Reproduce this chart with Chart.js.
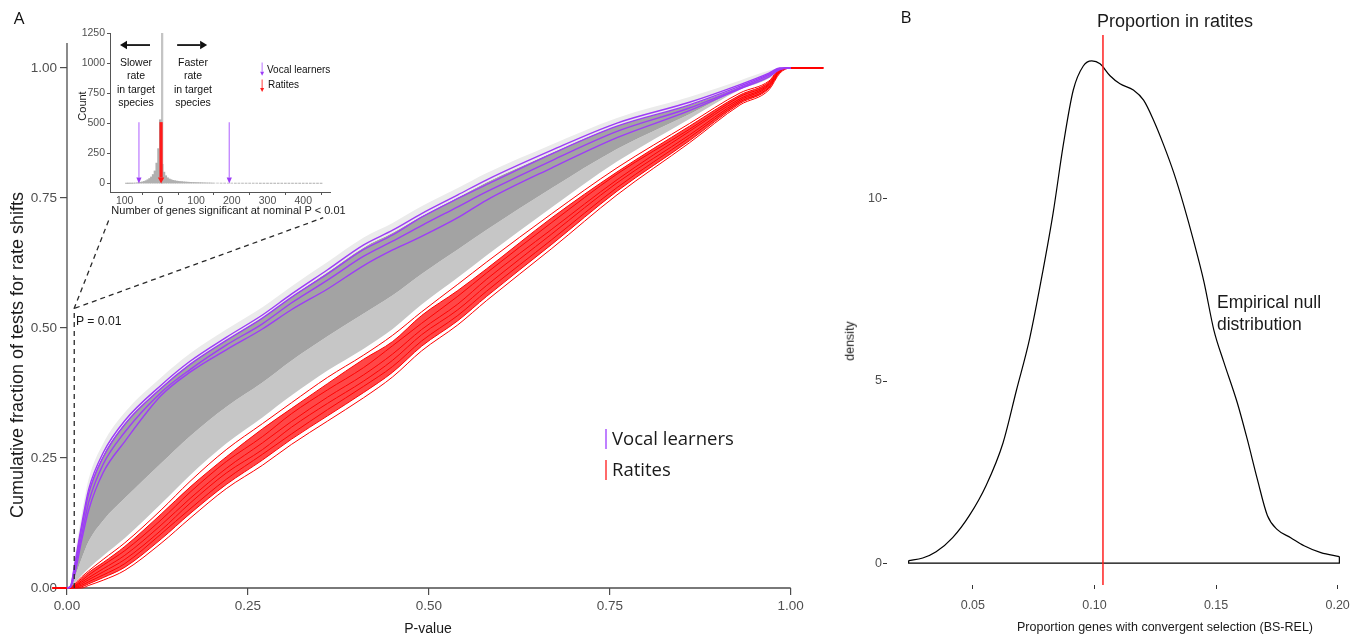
<!DOCTYPE html>
<html><head><meta charset="utf-8">
<script src="https://cdn.jsdelivr.net/npm/chart.js@4.4.1/dist/chart.umd.min.js"></script>
<style>
html,body{margin:0;padding:0;background:#fff;}
#wrap{position:relative;width:1363px;height:637px;overflow:hidden;}
canvas{position:absolute;}
.t{position:absolute;white-space:pre;line-height:1;}
</style></head><body><div id="wrap">
<canvas id="cA" width="860" height="637" style="left:0;top:0"></canvas>
<canvas id="cI" width="300" height="200" style="left:60px;top:20px"></canvas>
<canvas id="cB" width="523" height="637" style="left:840px;top:0"></canvas>
</div>
<script>
// ---------------- DATA ----------------
// Panel A: cumulative fraction vs P-value
const pGrid = [0, 0.005, 0.01, 0.02, 0.03, 0.05, 0.08, 0.13, 0.17, 0.22, 0.27, 0.31, 0.36, 0.41, 0.45, 0.49, 0.54, 0.58, 0.67, 0.76, 0.86, 0.93, 0.97, 0.985, 1.0];
// empirical null (grey) envelope
const nullEdgeTop    = [0, 0.008, 0.055, 0.14, 0.21, 0.278, 0.338, 0.405, 0.451, 0.497, 0.54, 0.58, 0.627, 0.674, 0.702, 0.734, 0.769, 0.798, 0.853, 0.904, 0.944, 0.976, 0.995, 1.0, 1.0];
const nullCoreTop    = [0, 0.003, 0.036, 0.115, 0.185, 0.255, 0.317, 0.385, 0.431, 0.477, 0.52, 0.56, 0.607, 0.655, 0.683, 0.715, 0.751, 0.78, 0.837, 0.889, 0.929, 0.964, 0.986, 0.998, 1];
const nullCoreBottom = [0, 0.002, 0.018, 0.056, 0.09, 0.13, 0.173, 0.24, 0.292, 0.348, 0.395, 0.437, 0.484, 0.528, 0.563, 0.604, 0.651, 0.689, 0.769, 0.844, 0.911, 0.96, 0.982, 0.997, 1];
const nullEdgeBottom = [0, 0.002, 0.009, 0.024, 0.038, 0.062, 0.096, 0.162, 0.217, 0.278, 0.328, 0.37, 0.418, 0.46, 0.498, 0.545, 0.597, 0.64, 0.732, 0.82, 0.902, 0.958, 0.98, 0.997, 1];
// vocal learners (purple)
const vocal1 = [0, 0.004, 0.04, 0.12, 0.19, 0.26, 0.322, 0.39, 0.436, 0.482, 0.525, 0.565, 0.612, 0.66, 0.688, 0.72, 0.756, 0.785, 0.842, 0.894, 0.934, 0.968, 0.99, 1.0, 1.0];
const vocal2 = [0, 0.003, 0.036, 0.113, 0.182, 0.252, 0.315, 0.384, 0.43, 0.476, 0.519, 0.559, 0.604, 0.651, 0.679, 0.713, 0.749, 0.776, 0.835, 0.888, 0.929, 0.965, 0.988, 0.999, 1.0];
const vocal3 = [0, 0.002, 0.03, 0.10, 0.165, 0.238, 0.30, 0.376, 0.42, 0.467, 0.508, 0.548, 0.592, 0.638, 0.667, 0.697, 0.733, 0.762, 0.822, 0.878, 0.923, 0.962, 0.986, 0.998, 1.0];
const vocal4 = [0, 0.002, 0.022, 0.09, 0.15, 0.222, 0.282, 0.37, 0.415, 0.458, 0.498, 0.535, 0.575, 0.62, 0.65, 0.676, 0.712, 0.746, 0.808, 0.866, 0.918, 0.96, 0.983, 0.997, 1.0];
// ratites (red)
const ratite1 = [0, 0.002, 0.007, 0.021, 0.033, 0.055, 0.087, 0.150, 0.205, 0.266, 0.316, 0.356, 0.405, 0.448, 0.486, 0.531, 0.584, 0.627, 0.720, 0.808, 0.893, 0.952, 0.975, 0.998, 1];
const ratite2 = [0, 0.001, 0.006, 0.018, 0.030, 0.049, 0.080, 0.142, 0.194, 0.252, 0.306, 0.345, 0.393, 0.440, 0.474, 0.524, 0.572, 0.614, 0.712, 0.800, 0.888, 0.948, 0.973, 0.997, 1];
const ratite3 = [0, 0.001, 0.004, 0.014, 0.025, 0.044, 0.072, 0.131, 0.184, 0.243, 0.291, 0.335, 0.381, 0.424, 0.466, 0.509, 0.561, 0.606, 0.703, 0.796, 0.882, 0.945, 0.970, 0.996, 1];
const ratite4 = [0, 0, 0.003, 0.011, 0.020, 0.037, 0.063, 0.121, 0.172, 0.230, 0.279, 0.320, 0.367, 0.410, 0.450, 0.497, 0.546, 0.594, 0.690, 0.785, 0.878, 0.941, 0.968, 0.995, 1];
const ratite5 = [0, 0, 0.002, 0.008, 0.016, 0.031, 0.055, 0.111, 0.163, 0.221, 0.266, 0.309, 0.355, 0.398, 0.438, 0.487, 0.535, 0.582, 0.681, 0.779, 0.871, 0.938, 0.966, 0.994, 1];
const ratite6 = [0, 0, 0.001, 0.005, 0.012, 0.025, 0.047, 0.104, 0.152, 0.209, 0.257, 0.296, 0.343, 0.388, 0.426, 0.475, 0.524, 0.571, 0.670, 0.770, 0.866, 0.935, 0.963, 0.993, 1];
const ratite7 = [0, 0, 0, 0.002, 0.008, 0.020, 0.040, 0.094, 0.143, 0.199, 0.246, 0.286, 0.331, 0.376, 0.415, 0.465, 0.514, 0.561, 0.661, 0.763, 0.860, 0.932, 0.961, 0.992, 1];
const ratite8 = [0, 0, 0, 0, 0.005, 0.015, 0.034, 0.086, 0.134, 0.191, 0.236, 0.276, 0.321, 0.366, 0.406, 0.456, 0.506, 0.553, 0.653, 0.756, 0.856, 0.929, 0.958, 0.990, 1];
const ratiteLeadP = -0.02, ratiteTailP = 1.045;
// P = 0.01 guide (dashed)
const guideP = [0.01, 0.01, 0.059];
const guideV = [0, 0.538, 0.712];
const guide2P = [0.011, 0.354];
const guide2V = [0.538, 0.712];
const pTicks = [0, 0.25, 0.5, 0.75, 1];
const fracTicks = [0, 0.25, 0.5, 0.75, 1];

// Inset histogram: number of genes significant at nominal P < 0.01 (signed: slower < 0 < faster)
const histBins = [-95,-90,-85,-80,-75,-70,-65,-60,-55,-50,-45,-40,-35,-30,-25,-20,-15,-10,-5,0,5,10,15,20,25,30,35,40,45,50,55,60,65,70,75,80,85,90,95,100,105,110,115,120,125,130,135,140,145,150,160,170,180,190,200,210,220,230,240,250,260,270,280,290,300,310,320,330,340,350,360,370,380,390,400,410,420,430,440,450];
const histCounts = [1,1,2,2,3,4,6,8,11,14,18,24,32,42,55,75,105,170,290,530,160,95,65,48,38,32,27,24,21,19,17,16,14,13,12,11,10,9,9,8,8,7,7,6,6,5,5,5,4,4,4,3,3,3,3,2,2,2,2,2,2,2,1,1,1,1,1,1,1,1,1,1,1,1,1,1,1,1,1,1];
const histTallBin = 5, histTallCount = 1320;
const insetXTicks = [-100, 0, 100, 200, 300, 400];
const insetYTicks = [0, 250, 500, 750, 1000, 1250];
const vocalArrowX = [-60, 193];
const ratiteArrowX = [2];
const arrowTopCount = 510;
const dirArrowLeft = [-29, -113], dirArrowRight = [47, 131], dirArrowCount = 1150;

// Panel B: density of proportion of genes with convergent selection
const densX = [0.0236,0.0294,0.0349,0.0417,0.0486,0.0555,0.0624,0.0679,0.0734,0.0789,0.083,0.0872,0.0913,0.0954,0.0989,0.1023,0.1064,0.1105,0.116,0.1202,0.1243,0.1284,0.1326,0.1367,0.1408,0.145,0.1491,0.1532,0.1587,0.1628,0.167,0.1711,0.1752,0.1807,0.1862,0.1931,0.2007];
const densY = [0.07,0.14,0.31,0.70,1.31,2.14,3.30,4.74,6.18,8.06,9.61,11.49,12.99,13.65,13.79,13.71,13.38,13.16,12.99,12.71,12.16,11.49,10.72,9.83,8.84,7.73,6.40,5.52,4.41,3.41,2.30,1.31,0.92,0.70,0.48,0.29,0.18];
const ratiteProportion = 0.1035;
const densTicksX = [0.05, 0.10, 0.15, 0.20];
const densTicksY = [0, 5, 10];

// ---------------- HELPERS ----------------
const SANS = '"Liberation Sans", Arial, Helvetica, sans-serif';
const HUM = '"Open Sans", "Liberation Sans", sans-serif';
const TICKC = '#4f4f4f';
function pts(xs, ys){ return xs.map((x,i)=>({x:x, y:ys[i]})); }
function addText(txt, x, y, o){
  o = o || {};
  const d = document.createElement('div');
  d.className = 't'; d.textContent = txt;
  d.style.left = x + 'px'; d.style.top = y + 'px';
  d.style.fontSize = (o.size || 13) + 'px';
  d.style.fontFamily = o.family || SANS;
  d.style.color = o.color || '#1a1a1a';
  if (o.lh) d.style.lineHeight = o.lh + 'px';
  if (o.center) d.style.textAlign = 'center';
  const ax = o.align === 'left' ? '0' : (o.align === 'right' ? '-100%' : '-50%');
  d.style.transform = 'translate(' + ax + ',-50%)' + (o.rot ? ' rotate(' + o.rot + 'deg)' : '');
  document.getElementById('wrap').appendChild(d);
}
function addBar(x, y, w, h, col){
  const d = document.createElement('div');
  d.style.cssText = 'position:absolute;left:'+x+'px;top:'+y+'px;width:'+w+'px;height:'+h+'px;background:'+col;
  document.getElementById('wrap').appendChild(d);
}
function arrow(ctx, x1, y1, x2, y2, col, lw, hl, hw, headCol){
  const a = Math.atan2(y2 - y1, x2 - x1);
  const bx = x2 - hl * Math.cos(a), by = y2 - hl * Math.sin(a);
  ctx.save();
  ctx.strokeStyle = col; ctx.lineWidth = lw; ctx.lineCap = 'butt';
  ctx.beginPath(); ctx.moveTo(x1, y1); ctx.lineTo(bx, by); ctx.stroke();
  ctx.fillStyle = headCol || col;
  ctx.beginPath();
  ctx.moveTo(x2, y2);
  ctx.lineTo(bx + hw * Math.sin(a), by - hw * Math.cos(a));
  ctx.lineTo(bx - hw * Math.sin(a), by + hw * Math.cos(a));
  ctx.closePath(); ctx.fill();
  ctx.restore();
}

// ---------------- PANEL A ----------------
const dsA = [];
dsA.push({data: pts(pGrid, nullEdgeTop), borderWidth: 0, fill: false, order: 10});
dsA.push({data: pts(pGrid, nullCoreTop), borderWidth: 0, fill: '-1', backgroundColor: '#ebebeb', order: 10});
dsA.push({data: pts(pGrid, nullCoreBottom), borderWidth: 0, fill: '-1', backgroundColor: '#a3a3a3', order: 10});
dsA.push({data: pts(pGrid, nullEdgeBottom), borderWidth: 0, fill: '-1', backgroundColor: '#c6c6c6', order: 10});
const ratites = [ratite1, ratite2, ratite3, ratite4, ratite5, ratite6, ratite7, ratite8];
const ratiteStart = dsA.length;
ratites.forEach((r, k) => {
  const d = [{x: ratiteLeadP, y: 0}].concat(pts(pGrid, r)).concat([{x: ratiteTailP, y: 1}]);
  const o = {data: d, borderColor: '#ff0000', borderWidth: 1, fill: false, clip: false, order: 6};
  if (k === 6) { o.fill = ratiteStart + 1; o.backgroundColor = 'rgba(255,0,0,0.72)'; }
  dsA.push(o);
});
[vocal1, vocal2, vocal3, vocal4].forEach(v => {
  dsA.push({data: pts(pGrid, v), borderColor: '#9d3cf7', borderWidth: 1.4, fill: false, clip: false, order: 4});
});
dsA.push({data: pts(guideP, guideV), borderColor: '#2a2a2a', borderWidth: 1.3, borderDash: [5, 4], fill: false, clip: false, order: 1, cubicInterpolationMode: 'default', tension: 0});
dsA.push({data: pts(guide2P, guide2V), borderColor: '#2a2a2a', borderWidth: 1.3, borderDash: [5, 4], fill: false, clip: false, order: 1, cubicInterpolationMode: 'default', tension: 0});

const axesA = {
  id: 'axesA',
  beforeDatasetsDraw(chart){
    const {ctx, scales: {x, y}, chartArea} = chart;
    const x0 = x.getPixelForValue(0), y0 = y.getPixelForValue(0), x1 = x.getPixelForValue(1);
    ctx.save(); ctx.strokeStyle = '#4d4d4d'; ctx.lineWidth = 1.3;
    ctx.beginPath(); ctx.moveTo(x0, chartArea.top); ctx.lineTo(x0, y0 + 0.6);
    ctx.moveTo(x0 - 0.6, y0); ctx.lineTo(x1, y0); ctx.stroke(); ctx.restore();
  }
};
const tickFontA = {family: SANS, size: 13.5};
new Chart(document.getElementById('cA'), {
  type: 'line',
  data: {datasets: dsA},
  options: {
    responsive: false, animation: false, events: [],
    layout: {padding: {left: 0, right: 36, top: 43, bottom: 0}},
    plugins: {legend: {display: false}, tooltip: {enabled: false}},
    elements: {point: {radius: 0}, line: {cubicInterpolationMode: 'monotone'}},
    scales: {
      x: {type: 'linear', min: 0, max: 1.046,
        afterFit(s){ s.height = 49; },
        afterBuildTicks(s){ s.ticks = pTicks.map(v => ({value: v})); },
        ticks: {callback: v => Number(v).toFixed(2), font: tickFontA, color: TICKC, padding: 3, maxRotation: 0, autoSkip: false},
        grid: {display: true, drawOnChartArea: false, drawTicks: true, tickLength: 7, color: '#4d4d4d', lineWidth: 1.2},
        border: {display: false}},
      y: {type: 'linear', min: 0, max: 1.048,
        afterFit(s){ s.width = 67; },
        afterBuildTicks(s){ s.ticks = fracTicks.map(v => ({value: v})); },
        ticks: {callback: v => Number(v).toFixed(2), font: tickFontA, color: TICKC, padding: 3, autoSkip: false},
        grid: {display: true, drawOnChartArea: false, drawTicks: true, tickLength: 7, color: '#4d4d4d', lineWidth: 1.2},
        border: {display: false}}
    }
  },
  plugins: [axesA]
});

// ---------------- INSET ----------------
const insetMarks = {
  id: 'insetMarks',
  afterDatasetsDraw(chart){
    const {ctx, scales: {x, y}} = chart;
    const yTop = y.getPixelForValue(arrowTopCount), y0 = y.getPixelForValue(0);
    vocalArrowX.forEach(v => {
      const px = x.getPixelForValue(v);
      arrow(ctx, px, yTop, px, y0, '#c58cff', 1.4, 6, 2.6, '#9d3cf7');
    });
    ratiteArrowX.forEach(v => {
      const px = x.getPixelForValue(v);
      arrow(ctx, px, yTop, px, y0, '#ff1a1a', 3.2, 6, 3.2, '#ff1a1a');
    });
    const ya = y.getPixelForValue(dirArrowCount);
    arrow(ctx, x.getPixelForValue(dirArrowLeft[0]), ya, x.getPixelForValue(dirArrowLeft[1]), ya, '#111', 1.8, 7, 4.2);
    arrow(ctx, x.getPixelForValue(dirArrowRight[0]), ya, x.getPixelForValue(dirArrowRight[1]), ya, '#111', 1.8, 7, 4.2);
    // legend keys
    const lx = x.getPixelForValue(285);
    arrow(ctx, lx, y.getPixelForValue(1005), lx, y.getPixelForValue(895), '#c58cff', 1.2, 4, 2, '#9d3cf7');
    arrow(ctx, lx, y.getPixelForValue(865), lx, y.getPixelForValue(760), '#ff6060', 1.2, 4, 2, '#ff1a1a');
  }
};
const tickFontI = {family: SANS, size: 10.5};
new Chart(document.getElementById('cI'), {
  type: 'bar',
  data: {datasets: [
    {data: [{x: histTallBin, y: histTallCount}], backgroundColor: '#c4c4c4', barThickness: 1.6, order: 2},
    {data: pts(histBins, histCounts), backgroundColor: '#b0b0b0', barThickness: 2, order: 1}
  ]},
  options: {
    responsive: false, animation: false, events: [],
    layout: {padding: {left: 0, right: 30, top: 13, bottom: 0}},
    plugins: {legend: {display: false}, tooltip: {enabled: false}},
    datasets: {bar: {grouped: false, categoryPercentage: 1, barPercentage: 1}},
    scales: {
      x: {type: 'linear', min: -141, max: 475, offset: false,
        afterFit(s){ s.height = 28; },
        afterBuildTicks(s){ s.ticks = insetXTicks.map(v => ({value: v})); },
        ticks: {callback: v => String(Math.abs(v)), font: tickFontI, color: TICKC, padding: 0, maxRotation: 0, autoSkip: false},
        grid: {display: true, drawOnChartArea: false, drawTicks: true, tickLength: 3, color: '#555'},
        border: {display: true, color: '#555', width: 1}},
      y: {type: 'linear', min: -70, max: 1250,
        afterFit(s){ s.width = 50; },
        afterBuildTicks(s){ s.ticks = insetYTicks.map(v => ({value: v})); },
        ticks: {callback: v => String(v), font: tickFontI, color: TICKC, padding: 2, autoSkip: false},
        grid: {display: true, drawOnChartArea: false, drawTicks: true, tickLength: 3, color: '#555'},
        border: {display: true, color: '#555', width: 1}}
    }
  },
  plugins: [insetMarks]
});

// ---------------- PANEL B ----------------
const n = densX.length;
const baseX = [densX[0], densX[0], densX[n-1], densX[n-1]];
const baseY = [densY[0], 0, 0, densY[n-1]];
const tickFontB = {family: SANS, size: 12.5};
new Chart(document.getElementById('cB'), {
  type: 'line',
  data: {datasets: [
    {data: pts(densX, densY), borderColor: '#000', borderWidth: 1.2, fill: false, cubicInterpolationMode: 'monotone', clip: false, order: 2},
    {data: pts(baseX, baseY), borderColor: '#000', borderWidth: 1.2, fill: false, tension: 0, clip: false, order: 2},
    {data: [{x: ratiteProportion, y: -0.6}, {x: ratiteProportion, y: 14.5}], borderColor: '#ff2020', borderWidth: 1.5, fill: false, order: 1}
  ]},
  options: {
    responsive: false, animation: false, events: [],
    layout: {padding: {left: 0, right: 2, top: 35, bottom: 0}},
    plugins: {legend: {display: false}, tooltip: {enabled: false}},
    elements: {point: {radius: 0}},
    scales: {
      x: {type: 'linear', min: 0.0147, max: 0.2096,
        afterFit(s){ s.height = 52; },
        afterBuildTicks(s){ s.ticks = densTicksX.map(v => ({value: v})); },
        ticks: {callback: v => Number(v).toFixed(2), font: tickFontB, color: TICKC, padding: 9, maxRotation: 0, autoSkip: false},
        grid: {display: true, drawOnChartArea: false, drawTicks: true, tickLength: 4, color: '#333'},
        border: {display: false}},
      y: {type: 'linear', min: -0.6, max: 14.5,
        afterFit(s){ s.width = 47; },
        afterBuildTicks(s){ s.ticks = densTicksY.map(v => ({value: v})); },
        ticks: {font: tickFontB, color: TICKC, padding: 1, autoSkip: false},
        grid: {display: true, drawOnChartArea: false, drawTicks: true, tickLength: 4, color: '#333'},
        border: {display: false}}
    }
  }
});

// ---------------- TEXT ----------------
addText('A', 19, 17, {size: 17, family: HUM, color: '#111'});
addText('B', 906, 16, {size: 17, family: HUM, color: '#111'});
addText('Cumulative fraction of tests for rate shifts', 17, 355, {size: 18, rot: -90});
addText('P-value', 428, 628, {size: 14});
addText('P = 0.01', 76, 321, {size: 12.2, align: 'left'});
addBar(605, 429, 2, 20, '#bf80ff');
addBar(605, 460, 2, 20, '#ff6a6a');
addText('Vocal learners', 612, 438, {size: 18.5, family: HUM, align: 'left', color: '#1a1a1a'});
addText('Ratites', 612, 469, {size: 18.5, family: HUM, align: 'left', color: '#1a1a1a'});
// inset texts
addText('Slower\nrate\nin target\nspecies', 136, 83, {size: 10.5, lh: 13.4, center: true, color: '#111'});
addText('Faster\nrate\nin target\nspecies', 193, 83, {size: 10.5, lh: 13.4, center: true, color: '#111'});
addText('Count', 82, 106, {size: 11, rot: -90});
addText('Number of genes significant at nominal P < 0.01', 228.5, 210, {size: 11});
addText('Vocal learners', 267, 70, {size: 10, align: 'left', color: '#111'});
addText('Ratites', 268, 85, {size: 10, align: 'left', color: '#111'});
// panel B texts
addText('Proportion in ratites', 1175, 21, {size: 18});
addText('Empirical null', 1217, 303, {size: 17.5, align: 'left'});
addText('distribution', 1217, 325, {size: 17.5, align: 'left'});
addText('density', 850, 341, {size: 12.5, rot: -90});
addText('Proportion genes with convergent selection (BS-REL)', 1165, 627, {size: 12.5});
</script>
</body></html>
